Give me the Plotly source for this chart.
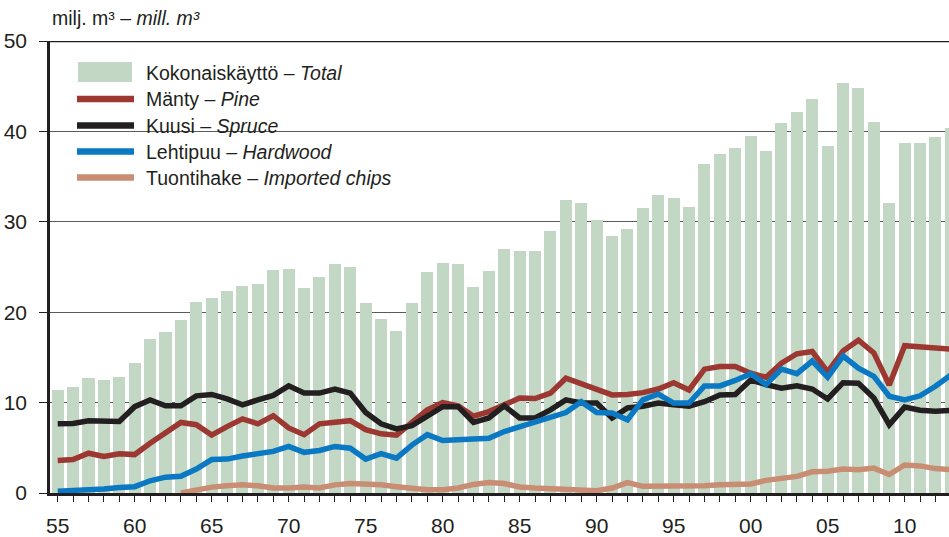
import plotly.graph_objects as go

years = list(range(1955, 2014))

total = [11.4, 11.75, 12.7, 12.5, 12.85, 14.4, 17.05, 17.8, 19.15, 21.15,
         21.6, 22.35, 22.9, 23.1, 24.65, 24.8, 22.7, 23.9, 25.3, 25.0,
         21.05, 19.25, 17.95, 21.05, 24.4, 25.45, 25.3, 22.8, 24.55, 27.0,
         26.8, 26.8, 29.0, 32.4, 32.1, 30.2, 28.4, 29.2, 31.5, 33.0,
         32.6, 31.6, 36.4, 37.5, 38.2, 39.5, 37.8, 40.9, 42.1, 43.6,
         38.4, 45.4, 44.8, 41.0, 32.1, 38.7, 38.7, 39.4, 40.4]

pine = [3.6, 3.7, 4.4, 4.05, 4.35, 4.25, 5.5, 6.6, 7.8, 7.55,
        6.4, 7.35, 8.2, 7.65, 8.55, 7.2, 6.45, 7.65, 7.9, 8.0,
        7.0, 6.55, 6.4, 7.9, 9.2, 10.0, 9.65, 8.5, 9.0, 9.75,
        10.5, 10.45, 11.05, 12.7, 12.1, 11.4, 10.85, 10.9, 11.1, 11.5,
        12.2, 11.4, 13.7, 14.0, 14.0, 13.25, 12.8, 14.35, 15.4, 15.65,
        13.4, 15.7, 16.9, 15.5, 11.95, 16.3, 16.1, 16.05, 15.9]

spruce = [7.65, 7.7, 8.0, 8.0, 7.9, 9.55, 10.3, 9.65, 9.65, 10.75,
          10.9, 10.4, 9.75, 10.3, 10.8, 11.85, 11.05, 11.05, 11.5, 11.05,
          8.9, 7.65, 7.1, 7.45, 8.55, 9.55, 9.55, 7.8, 8.3, 9.65,
          8.3, 8.3, 9.2, 10.3, 9.95, 9.95, 8.3, 9.4, 9.6, 9.95,
          9.75, 9.6, 10.1, 10.85, 10.9, 12.5, 12.0, 11.6, 11.85, 11.5,
          10.4, 12.2, 12.15, 10.5, 7.55, 9.5, 9.15, 9.05, 9.15]

hardwood = [0.2, 0.25, 0.35, 0.45, 0.6, 0.7, 1.35, 1.75, 1.85, 2.65,
            3.7, 3.75, 4.1, 4.35, 4.6, 5.15, 4.5, 4.7, 5.15, 4.95,
            3.75, 4.35, 3.85, 5.3, 6.45, 5.8, 5.9, 5.9, 6.05, 6.8,
            7.35, 7.9, 8.45, 8.9, 10.1, 8.9, 8.85, 8.1, 10.3, 10.95,
            9.95, 9.95, 11.85, 11.85, 12.45, 13.2, 12.0, 13.7, 13.2, 14.6,
            12.8, 15.15, 13.8, 12.9, 10.7, 10.3, 10.75, 11.8, 13.05]

chips = [None, None, None, None, None, None, None, None, 0.0, 0.35,
         0.65, 0.8, 0.9, 0.8, 0.55, 0.55, 0.65, 0.55, 0.9, 1.05,
         1.05, 0.9, 0.7, 0.45, 0.35, 0.35, 0.55, 0.95, 1.15, 1.05,
         0.66, 0.55, 0.5, 0.37, 0.26, 0.26, 0.55, 1.15, 0.74, 0.74,
         0.66, 0.66, 0.8, 0.9, 1.0, 1.0, 1.4, 1.55, 1.84, 2.35,
         2.4, 2.65, 2.57, 2.75, 2.05, 3.1, 3.0, 2.7, 2.6]

xtick_vals = list(range(1955, 2011, 5))
xtick_text = ["55", "60", "65", "70", "75", "80", "85", "90", "95", "00", "05", "10"]

labels = ["Kokonaiskäyttö – <i>Total</i>", "Mänty – <i>Pine</i>",
          "Kuusi – <i>Spruce</i>", "Lehtipuu – <i>Hardwood</i>",
          "Tuontihake – <i>Imported chips</i>"]

C_BAR = "#c2d8c5"
C_PINE = "#9c3831"
C_SPRUCE = "#231f20"
C_HARD = "#0a78c2"
C_CHIPS = "#c98d74"

FONT = "Liberation Sans, Arial, sans-serif"

W, H = 949, 537
ML, MR, MT, MB = 50, 0, 41, 44
PW = W - ML - MR
PH = H - MT - MB


def px(x):
    return (x - ML) / PW


def py(y):
    return (H - MB - y) / PH


fig = go.Figure()
fig.add_trace(go.Bar(x=years, y=total, marker=dict(color=C_BAR, line=dict(width=0)),
                     width=0.78, showlegend=False))
for vals, col in [(pine, C_PINE), (spruce, C_SPRUCE), (hardwood, C_HARD), (chips, C_CHIPS)]:
    fig.add_trace(go.Scatter(x=years, y=vals, mode="lines",
                             line=dict(color=col, width=5.5), showlegend=False,
                             connectgaps=False))

shapes = []
shapes.append(dict(type="line", xref="paper", yref="y", x0=0, x1=1, y0=50, y1=50,
                   line=dict(color="#231f20", width=2.5), layer="above"))
shapes.append(dict(type="rect", xref="paper", yref="paper", x0=px(59), x1=px(348),
                   y0=py(196), y1=py(50), fillcolor="white", line=dict(width=0), layer="below"))
shapes.append(dict(type="rect", xref="paper", yref="paper", x0=px(78), x1=px(132),
                   y0=py(82), y1=py(62), fillcolor=C_BAR, line=dict(width=0), layer="above"))
row_y = [73, 99, 125.5, 151.5, 177.5]
for yy, col in zip(row_y[1:], [C_PINE, C_SPRUCE, C_HARD, C_CHIPS]):
    shapes.append(dict(type="line", xref="paper", yref="paper", x0=px(77), x1=px(134),
                       y0=py(yy), y1=py(yy), line=dict(color=col, width=6.5), layer="above"))

annotations = []
for yy, txt in zip(row_y, labels):
    annotations.append(dict(xref="paper", yref="paper", x=px(144), y=py(yy),
                            text=txt, showarrow=False, xanchor="left", yanchor="middle",
                            font=dict(family=FONT, size=19.5, color="#231f20")))
annotations.append(dict(xref="paper", yref="paper", x=px(50), y=py(18),
                        text="milj. m³ – <i>mill. m³</i>", showarrow=False,
                        xanchor="left", yanchor="middle",
                        font=dict(family=FONT, size=19.5, color="#231f20")))

fig.update_layout(
    width=W, height=H,
    margin=dict(l=ML, r=MR, t=MT, b=MB),
    paper_bgcolor="white", plot_bgcolor="white",
    bargap=0, barmode="overlay",
    shapes=shapes, annotations=annotations,
    font=dict(family=FONT, size=20, color="#231f20"),
    xaxis=dict(range=[1954.5, 2012.88], tickmode="array", tickvals=xtick_vals,
               ticktext=xtick_text, ticks="outside", ticklen=6, tickwidth=1.2,
               tickcolor="#231f20", showline=True, linecolor="#231f20", linewidth=2.5,
               showgrid=False, zeroline=False, ticklabelstandoff=6, automargin=False,
               minor=dict(tick0=1955, dtick=1, ticks="outside", ticklen=6,
                          tickwidth=1.2, tickcolor="#231f20", showgrid=False),
               tickfont=dict(family=FONT, size=21, color="#231f20")),
    yaxis=dict(range=[0, 50], tickmode="array", tickvals=[0, 10, 20, 30, 40, 50],
               ticks="outside", ticklen=8, tickwidth=1.2, tickcolor="#231f20",
               showline=True, linecolor="#231f20", linewidth=2.5,
               showgrid=True, gridcolor="#5a5a5a", gridwidth=1.3, zeroline=False,
               ticklabelstandoff=8, automargin=False,
               tickfont=dict(family=FONT, size=21, color="#231f20")),
)

fig.write_html("out.html", config={"displayModeBar": False},
               post_script="document.body.style.margin='0';document.body.style.overflow='hidden';")
